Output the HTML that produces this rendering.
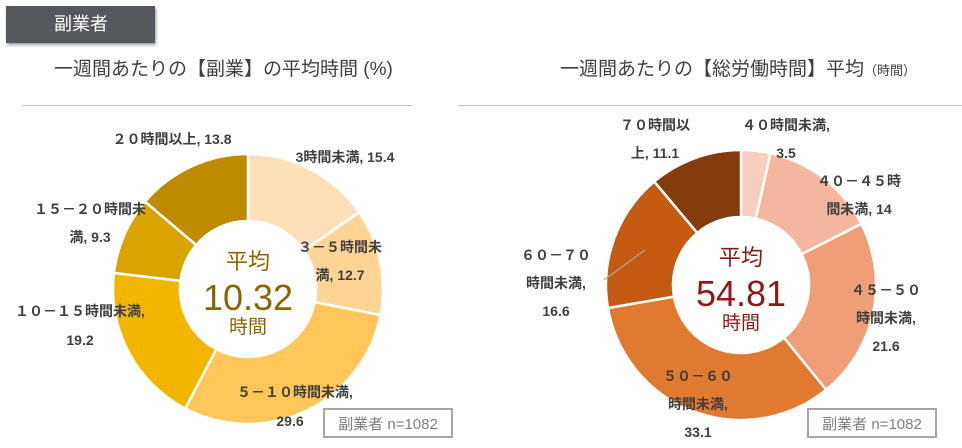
<!DOCTYPE html>
<html><head><meta charset="utf-8"><style>
body{margin:0;width:962px;height:448px;background:#fff;overflow:hidden;font-family:"Liberation Sans","Noto Sans CJK JP",sans-serif;position:relative}
.tag{position:absolute;left:6px;top:6px;width:149px;height:37px;background:#55585d;color:#fff;font-size:18px;line-height:37px;box-shadow:1px 2px 3px rgba(0,0,0,.4);text-indent:48px}
.title{position:absolute;top:54px;font-size:19px;color:#404040}
.rule{position:absolute;top:105px;height:1px;background:#bfbfbf}
</style></head><body>
<div class="tag">副業者</div>
<div class="title" style="left:54px">一週間あたりの【副業】の平均時間 (%)</div>
<div class="title" style="left:560px">一週間あたりの【総労働時間】平均<span style="font-size:13px">（時間）</span></div>
<div class="rule" style="left:22px;width:390px"></div>
<div class="rule" style="left:458px;width:504px"></div>
<svg id="svg" width="962" height="448" style="position:absolute;left:0;top:0"></svg>
<script>
const leftCategories=["3時間未満","3－5時間未満","5－10時間未満","10－15時間未満","15－20時間未満","20時間以上"];
const leftValues=[15.4,12.7,29.6,19.2,9.3,13.8];
const rightCategories=["40時間未満","40－45時間未満","45－50時間未満","50－60時間未満","60－70時間未満","70時間以上"];
const rightValues=[3.5,14.0,21.6,33.1,16.6,11.1];
const leftColors=["#FEE0B8","#FED594","#FFC65A","#F2B600","#D9A400","#BE8B00"];
const rightColors=["#F8CEC0","#F5B69E","#EF9E78","#E07A30","#C45B12","#843C0C"];
const NS="http://www.w3.org/2000/svg";
const svg=document.getElementById('svg');
function el(t,a){const e=document.createElementNS(NS,t);for(const k in a)e.setAttribute(k,a[k]);svg.appendChild(e);return e;}
function donut(cx,cy,ro,ri,vals,cols,prefix){
  const tot=vals.reduce((a,b)=>a+b,0);let a0=0;
  vals.forEach((v,i)=>{
    const a1=a0+v/tot*2*Math.PI;
    const p=(a,r)=>[cx+r*Math.sin(a),cy-r*Math.cos(a)];
    const [x1,y1]=p(a0,ro),[x2,y2]=p(a1,ro),[x3,y3]=p(a1,ri),[x4,y4]=p(a0,ri);
    const lg=(a1-a0)>Math.PI?1:0;
    const path=el('path',{d:`M${x1},${y1}A${ro},${ro} 0 ${lg} 1 ${x2},${y2}L${x3},${y3}A${ri},${ri} 0 ${lg} 0 ${x4},${y4}Z`,fill:cols[i],stroke:'#fff','stroke-width':2.5});
    
    
    a0=a1;
  });
}
donut(248,289,135,68,leftValues,leftColors,'left');
donut(741,285,135,68,rightValues,rightColors,'right');
function txt(x,y,s,opt){const t=el('text',Object.assign({x:x,y:y,'font-size':14,'font-weight':'bold',fill:'#404040','text-anchor':'middle'},opt||{}));t.textContent=s;return t;}
// left labels
const L=[[345,162,["3時間未満, "+leftValues[0]]],[340,252,["３－５時間未","満, "+leftValues[1]]],[295,397,["５－１０時間未満,",""+leftValues[2]],[290,426]],[80,316,["１０－１５時間未満,",""+leftValues[3]],[80,345]],[90,214,["１５－２０時間未","満, "+leftValues[4]],[90,242]],[172,144,["２０時間以上, "+leftValues[5]]]];
L.forEach((l,i)=>{l[2].forEach((s,j)=>{const y=j==0?l[1]:(l[3]?l[3][1]:l[1]+28);const x=j==0?l[0]:(l[3]?l[3][0]:l[0]);const t=txt(x,y,s);});});
const R=[[786,130,["４０時間未満,",""+rightValues[0]]],[859,186,["４０－４５時","間未満, "+rightValues[1]]],[886,295,["４５－５０","時間未満,",""+rightValues[2]]],[698,381,["５０－６０","時間未満,",""+rightValues[3]]],[556,260,["６０－７０","時間未満,",""+rightValues[4]]],[655,130,["７０時間以","上, "+rightValues[5]]]];
R.forEach((l,i)=>{l[2].forEach((s,j)=>{const t=txt(l[0],l[1]+j*28,s);});});
const ld=el('line',{x1:645,y1:250,x2:604,y2:280,stroke:'#a6a6a6','stroke-width':1.2});

// centers
[[248,289,'#8B6500','10.32'],[741,285,'#8B1A1A','54.81']].forEach((c,i)=>{
  const a=txt(c[0],c[1]-20,'平均',{'font-size':22,'font-weight':'normal',fill:c[2]});
  const b=txt(c[0],c[1]+21,c[3],{'font-size':36,'font-weight':'normal',fill:c[2]});
  const d=txt(c[0],c[1]+44,'時間',{'font-size':19,'font-weight':'normal',fill:c[2]});
});
// n boxes
[[324,409],[808,409]].forEach((b,i)=>{
  const r=el('rect',{x:b[0],y:b[1],width:128,height:28,fill:'#fff',stroke:'#a6a6a6','stroke-width':2});
  const t=txt(b[0]+64,b[1]+20,'副業者 n=1082',{'font-size':15,'font-weight':'normal',fill:'#7f7f7f'});
});
</script>
</body></html>
